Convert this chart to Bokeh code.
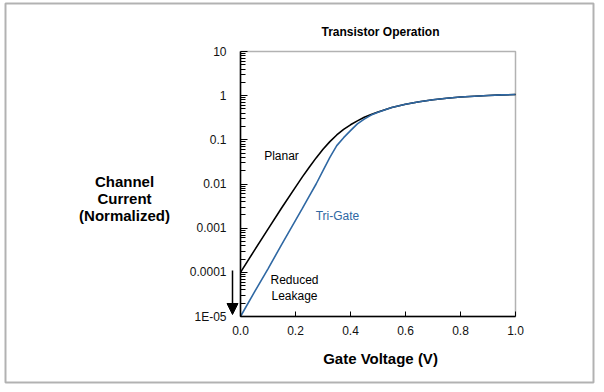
from bokeh.plotting import figure
from bokeh.models import (FixedTicker, NumeralTickFormatter, Label, Arrow,
                          NormalHead, BoxAnnotation, Range1d, LinearAxis, LogAxis)
from bokeh.embed import file_html
from bokeh.resources import INLINE

# ---------------- data ----------------
voltage = [0.00, 0.05, 0.10, 0.15, 0.20, 0.225, 0.25, 0.275, 0.30, 0.325, 0.35,
           0.375, 0.40, 0.425, 0.45, 0.475, 0.50, 0.55, 0.60, 0.65, 0.70, 0.75,
           0.80, 0.85, 0.90, 0.95, 1.00]
planar = [1.0e-4, 3.1e-4, 9.5e-4, 2.9e-3, 8.5e-3, 0.0145, 0.024, 0.039, 0.061, 0.091, 0.129,
          0.172, 0.219, 0.269, 0.324, 0.376, 0.427, 0.537, 0.64, 0.73, 0.81, 0.875,
          0.93, 0.973, 1.01, 1.04, 1.06]
trigate = [1.0e-5, 3.5e-5, 1.2e-4, 4.3e-4, 1.5e-3, 2.8e-3, 5.3e-3, 0.010, 0.020, 0.040, 0.074,
           0.112, 0.162, 0.229, 0.295, 0.363, 0.422, 0.537, 0.64, 0.73, 0.81, 0.875,
           0.93, 0.973, 1.01, 1.04, 1.06]

x_min, x_max = 0.0, 1.0
y_min, y_max = 1e-5, 10.0
x_ticks = [0.0, 0.2, 0.4, 0.6, 0.8, 1.0]
y_ticks = [1e-5, 1e-4, 1e-3, 1e-2, 1e-1, 1.0, 10.0]
y_tick_labels = ["1E-05", "0.0001", "0.001", "0.01", "0.1", "1", "10"]
y_minor = [k * 10.0 ** e for e in range(-5, 1) for k in range(2, 10)]

title_text = "Transistor Operation"
x_title = "Gate Voltage (V)"
y_title_lines = ["Channel", "Current", "(Normalized)"]

# ---------------- layout geometry ----------------
FONT = "Liberation Sans"
BLUE = "#2f68a3"
W, H = 598, 386
FL, FR, FT, FB = 240, 515, 51, 316   # plot box edges in page pixels
DEC = 6.0                            # decades shown on the y axis


def dx(px):
    return x_min + (px - FL) / (FR - FL) * (x_max - x_min)


def dy(py):
    return y_max * 10.0 ** (-(py - FT) / (FB - FT) * DEC)


# the frame covers the whole canvas; the axes are pinned to the plot box
p = figure(width=W, height=H, x_range=Range1d(dx(0), dx(W)),
           y_range=Range1d(dy(H), dy(0)), y_axis_type="log",
           x_axis_location=None, y_axis_location=None,
           output_backend="svg", toolbar_location=None,
           min_border_left=0, min_border_right=0,
           min_border_top=0, min_border_bottom=0)

p.xgrid.visible = False
p.ygrid.visible = False
p.outline_line_color = None
p.background_fill_color = "white"
p.border_fill_color = "white"

xaxis = LinearAxis(fixed_location=y_min, bounds=(x_min, x_max),
                   ticker=FixedTicker(ticks=x_ticks),
                   formatter=NumeralTickFormatter(format="0.0"))
yaxis = LogAxis(fixed_location=x_min, bounds=(y_min, y_max),
                ticker=FixedTicker(ticks=y_ticks, minor_ticks=y_minor))
yaxis.major_label_overrides = {t: l for t, l in zip(y_ticks, y_tick_labels)}
for ax in (xaxis, yaxis):
    ax.axis_line_color = "black"
    ax.axis_line_width = 1.5
    ax.major_tick_line_color = "black"
    ax.major_tick_line_width = 1
    ax.major_tick_out = 0
    ax.minor_tick_out = 0
    ax.major_label_text_font = FONT
    ax.major_label_text_font_size = "12px"
    ax.major_label_text_color = "#111111"
xaxis.major_tick_in = 5
xaxis.minor_tick_line_color = None
xaxis.major_label_standoff = 9
yaxis.major_tick_in = 7
yaxis.minor_tick_in = 5
yaxis.minor_tick_line_color = "black"
yaxis.major_label_standoff = 14
p.add_layout(xaxis, "below")
p.add_layout(yaxis, "left")

# plot box
p.add_layout(BoxAnnotation(left=x_min, right=x_max, bottom=y_min, top=y_max,
                           fill_alpha=0, line_color="black", line_width=1.5))

# curves
p.line(voltage, planar, line_color="black", line_width=1.6)
p.line(voltage, trigate, line_color=BLUE, line_width=1.6)


def add_text(txt, px, py, size="12px", bold=False, color="black"):
    p.add_layout(Label(x=dx(px), y=dy(py), text=txt, text_font=FONT,
                       text_font_size=size,
                       text_font_style="bold" if bold else "normal",
                       text_color=color, text_align="center",
                       text_baseline="middle"))


add_text(title_text, 380, 31, "12px", True)
add_text(x_title, 380, 358, "15px", True)
for i, line in enumerate(y_title_lines):
    add_text(line, 124, 181 + 17 * i, "15px", True)
add_text("Planar", 281, 155)
add_text("Tri-Gate", 337, 215, color=BLUE)
add_text("Reduced", 294, 279)
add_text("Leakage", 294, 295)

# leakage arrow
p.add_layout(Arrow(x_start=dx(232), y_start=dy(270), x_end=dx(232), y_end=dy(314),
                   line_color="black", line_width=1.5,
                   end=NormalHead(size=11, fill_color="black", line_color="black")))

# outer frame of the picture
p.add_layout(BoxAnnotation(left=dx(5), right=dx(593), top=dy(3), bottom=dy(382),
                           fill_alpha=0, line_color="black", line_width=2))

open("out.html", "w").write(file_html(p, INLINE))
